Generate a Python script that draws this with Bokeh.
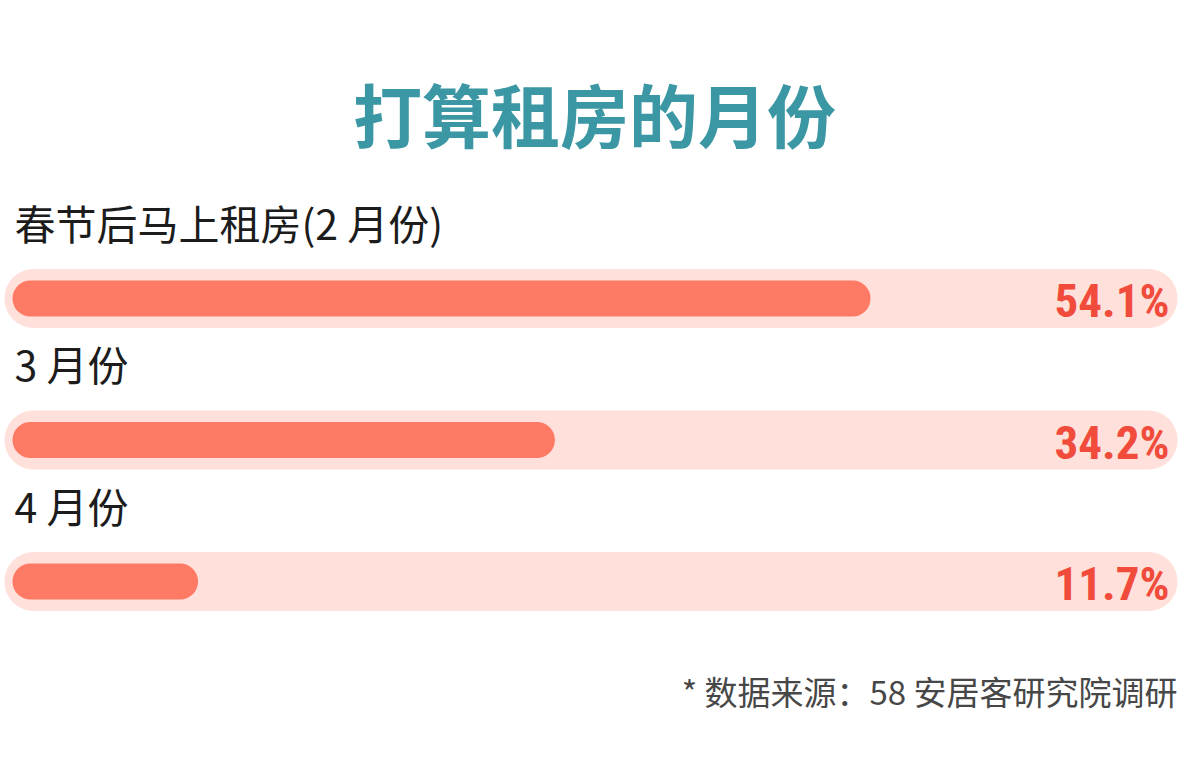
from bokeh.plotting import figure
from bokeh.models import Range1d, ColumnDataSource
from bokeh.core.properties import value
from bokeh.embed import file_html
from bokeh.resources import INLINE

# ---- data ----
title_text = "打算租房的月份"
categories = ["春节后马上租房(2 月份)", "3 月份", "4 月份"]
shares = [54.1, 34.2, 11.7]
value_labels = ["54.1%", "34.2%", "11.7%"]
source_note = "* 数据来源：58 安居客研究院调研"

# ---- layout ----
W, H = 1178, 750
PX_PER_PCT = 15.86
X0 = 12                      # pixel position of 0 %
ROW0, ROW_STEP = 298, 141.5  # centre of first bar, row spacing (px)

p = figure(width=W, height=H, output_backend="svg", toolbar_location=None,
           x_range=Range1d(-X0 / PX_PER_PCT, (W - X0) / PX_PER_PCT),
           y_range=Range1d(H, 0), min_border=0, outline_line_color=None)
p.extra_x_ranges = {"px": Range1d(0, W)}
p.axis.visible = False
p.grid.visible = False
p.background_fill_color = "white"
p.border_fill_color = "white"

ys = [ROW0 + i * ROW_STEP for i in range(len(categories))]
src = ColumnDataSource(dict(
    y=ys, share=shares, cat=categories, lab=value_labels,
    label_y=[y - 77 for y in ys], val_y=[y + 2 for y in ys],
    track_l=[(4 - X0) / PX_PER_PCT] * len(ys),
    track_r=[(1177 - X0) / PX_PER_PCT] * len(ys),
    zero=[0] * len(ys),
))

# track
p.hbar(y="y", left="track_l", right="track_r", height=59, source=src,
       fill_color="#ffe0da", line_color=None, border_radius=29)
# bar
p.hbar(y="y", left="zero", right="share", height=36, source=src,
       fill_color="#ff7a64", line_color=None, border_radius=18)

# category labels
p.text(x=14, y="label_y", text="cat", source=src, x_range_name="px",
       text_font=value("Noto Sans CJK SC"), text_font_size="41px",
       text_color="#1c1c1c", text_align="left", text_baseline="middle")

# value labels
p.text(x=1169, y="val_y", text="lab", source=src, x_range_name="px",
       text_font=value("'Roboto Condensed', 'Open Sans Condensed', 'Liberation Sans Narrow', 'Arial Narrow', Roboto"),
       text_font_size="47px", text_font_style="bold",
       text_color="#f04b3b", text_align="right", text_baseline="middle")

# title
p.text(x=[594], y=[112], text=[title_text], x_range_name="px",
       text_font=value("Noto Sans CJK SC"), text_font_size="69px",
       text_font_style="bold", text_color="#3b97a3",
       text_align="center", text_baseline="middle")

# source note
p.text(x=[1177], y=[690], text=[source_note], x_range_name="px",
       text_font=value("Noto Sans CJK SC"), text_font_size="33px",
       text_color="#474747", text_align="right", text_baseline="middle")

open("out.html", "w").write(file_html(p, INLINE))
